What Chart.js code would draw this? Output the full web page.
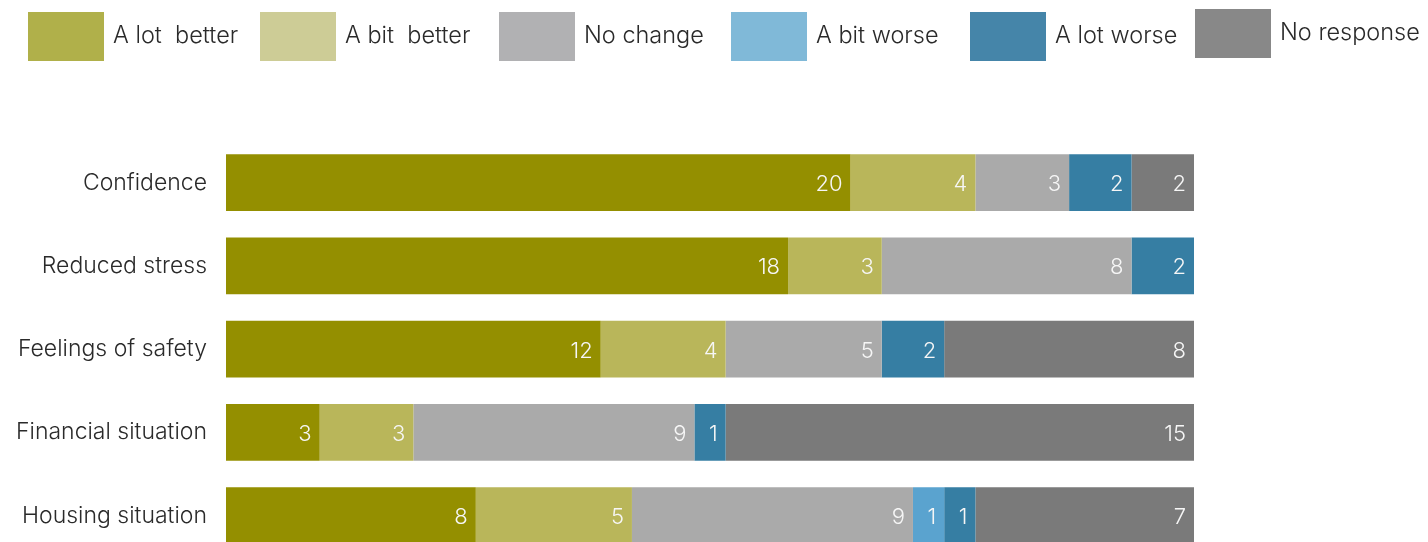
<!DOCTYPE html>
<html>
<head>
<meta charset="utf-8">
<script src="https://cdn.jsdelivr.net/npm/chart.js@4/dist/chart.umd.min.js"></script>
<style>
  html, body { margin: 0; padding: 0; background: #fff; overflow: hidden; }
  #wrap { position: relative; width: 1428px; height: 542px; overflow: hidden; }
  #myChart { position: absolute; left: 0; top: 0; }
  .leg { position: absolute; display: flex; align-items: center; font-family: Inter, "Noto Sans", sans-serif; font-weight: 300; font-size: 23.5px; color: #2a2a2a; white-space: pre; }
  .leg span.box { display: inline-block; width: 76px; height: 49px; margin-right: 9px; }
  .leg span.txt { position: relative; top: -2px; }
</style>
</head>
<body>
<div id="wrap">
  <canvas id="myChart" width="1428" height="590"></canvas>
  <div id="legend"></div>
</div>
<script>
const categories = ['Confidence', 'Reduced stress', 'Feelings of safety', 'Financial situation', 'Housing situation'];
const seriesNames = ['A lot  better', 'A bit  better', 'No change', 'A bit worse', 'A lot worse', 'No response'];
const aLotBetter = [20, 18, 12, 3, 8];
const aBitBetter = [4, 3, 4, 3, 5];
const noChange = [3, 8, 5, 9, 9];
const aBitWorse = [0, 0, 0, 0, 1];
const aLotWorse = [2, 2, 2, 1, 1];
const noResponse = [2, 0, 8, 15, 7];

const barColors = ['#948f00', '#b9b65a', '#aaaaaa', '#5aa3cf', '#367ea3', '#7a7a7a'];
const legendColors = ['#b0b04a', '#cdcc96', '#b1b1b3', '#80b9d8', '#4585a9', '#888888'];
const legendX = [28, 260, 499, 731, 970, 1195];
const legendY = [12, 12, 12, 12, 12, 9];

const allSeries = [aLotBetter, aBitBetter, noChange, aBitWorse, aLotWorse, noResponse];

// html legend
const legEl = document.getElementById('legend');
seriesNames.forEach((name, i) => {
    const d = document.createElement('div');
    d.className = 'leg';
    d.style.left = legendX[i] + 'px';
    d.style.top = legendY[i] + 'px';
    d.innerHTML = '<span class="box" style="background:' + legendColors[i] + '"></span><span class="txt">' + name + '</span>';
    legEl.appendChild(d);
});

// value labels at the right end of each segment
const segLabels = {
    id: 'segLabels',
    afterDatasetsDraw(chart) {
        const ctx = chart.ctx;
        ctx.save();
        ctx.font = '300 22px Inter, "Noto Sans", sans-serif';
        ctx.fillStyle = '#f6f6f6';
        ctx.textAlign = 'right';
        ctx.textBaseline = 'middle';
        chart.data.datasets.forEach((ds, di) => {
            const meta = chart.getDatasetMeta(di);
            meta.data.forEach((bar, i) => {
                const v = ds.data[i];
                if (!v) return;
                ctx.fillText(String(v), bar.x - 8, bar.y + 2);
            });
        });
        ctx.restore();
    }
};

const ctx = document.getElementById('myChart').getContext('2d');
const myChart = new Chart(ctx, {
    type: 'bar',
    data: {
        labels: categories,
        datasets: allSeries.map((data, i) => ({
            label: seriesNames[i],
            data: data,
            backgroundColor: barColors[i],
            borderWidth: 0,
            barPercentage: 1,
            categoryPercentage: 0.68
        }))
    },
    options: {
        responsive: false,
        indexAxis: 'y',
        animation: false,
        layout: { padding: { top: 141, bottom: 5, left: 0, right: 234 } },
        plugins: {
            legend: { display: false },
            tooltip: { enabled: false }
        },
        scales: {
            x: { stacked: true, min: 0, max: 31, display: false },
            y: {
                stacked: true,
                grid: { display: false, drawTicks: false },
                border: { display: false },
                ticks: {
                    color: '#2a2a2a',
                    padding: 19,
                    font: { family: 'Inter, "Noto Sans", sans-serif', size: 23, weight: '300' }
                },
                afterFit(scale) { scale.width = 226; }
            }
        }
    },
    plugins: [segLabels]
});
</script>
</body>
</html>
